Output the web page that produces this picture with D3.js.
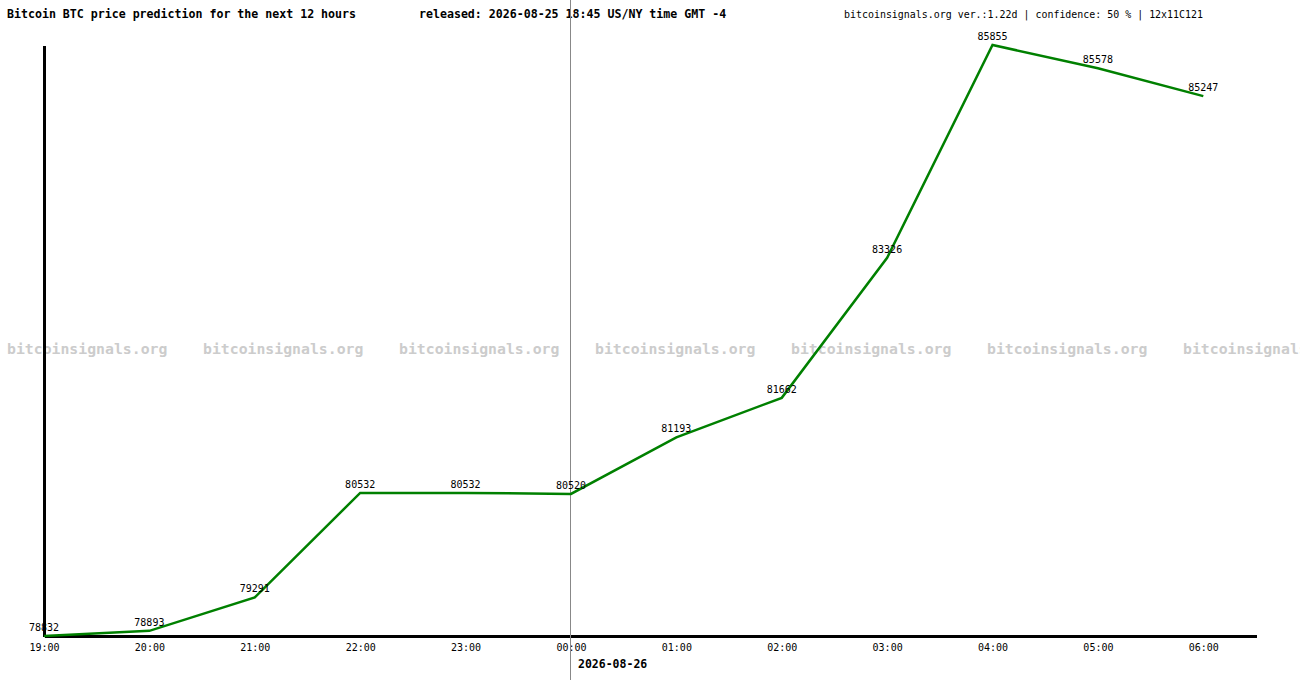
<!DOCTYPE html>
<html lang="en">
<head>
	<meta charset="utf-8">
	<title>Bitcoin BTC price prediction</title>
	<style type="text/css">
		body {
			margin: 0;
			background: #fff;
		}
		svg text {
			font-family: "DejaVu Sans Mono", "Liberation Mono", monospace;
		}
		.axis path {
			stroke: #000;
			stroke-width: 3px;
			shape-rendering: crispEdges;
		}
		.axis text {
			font-size: 10px;
			fill: #000;
		}
	</style>
</head>
<body>
	<div id="vis"></div>

	<script src="https://cdn.jsdelivr.net/npm/d3@7"></script>
	<script type="text/javascript">

		var hours = [ "19:00", "20:00", "21:00", "22:00", "23:00", "00:00",
					  "01:00", "02:00", "03:00", "04:00", "05:00", "06:00" ];
		var prices = [ 78832, 78893, 79291, 80532, 80532, 80520,
					   81193, 81662, 83326, 85855, 85578, 85247 ];
		var watermarks = [ 0, 1, 2, 3, 4, 5, 6 ];

		var w = 1300;
		var h = 680;

		var xScale = d3.scaleLinear()
						.domain([0, hours.length - 0.5])
						.range([44, 1256]);

		var yScale = d3.scaleLinear()
						.domain([d3.min(prices), d3.max(prices)])
						.range([636, 45]);

		var svg = d3.select("#vis")
					.append("svg")
					.attr("width", w)
					.attr("height", h);

		//Watermark (last copy runs off the right edge, as in the original)
		svg.selectAll("text.wm")
			.data(watermarks)
			.enter()
			.append("text")
			.attr("class", "wm")
			.attr("x", function(d) { return 7 + d * 196; })
			.attr("y", 354)
			.attr("font-size", "14.8px")
			.attr("font-weight", "bold")
			.attr("fill", "#cccccc")
			.text("bitcoinsignals.org");

		//Header
		svg.append("text")
			.attr("x", 7)
			.attr("y", 18)
			.attr("font-size", "11.6px")
			.attr("font-weight", "bold")
			.text("Bitcoin BTC price prediction for the next 12 hours");

		svg.append("text")
			.attr("x", 419)
			.attr("y", 18)
			.attr("font-size", "11.6px")
			.attr("font-weight", "bold")
			.text("released: 2026-08-25 18:45 US/NY time GMT -4");

		svg.append("text")
			.attr("x", 844)
			.attr("y", 18)
			.attr("font-size", "9.95px")
			.text("bitcoinsignals.org ver.:1.22d | confidence: 50 % | 12x11C121");

		//X axis
		var xAxis = d3.axisBottom(xScale)
						.tickValues(d3.range(hours.length))
						.tickFormat(function(d) { return hours[d]; })
						.tickSize(0)
						.tickSizeOuter(0)
						.tickPadding(8);

		svg.append("g")
			.attr("class", "axis")
			.attr("transform", "translate(0,636)")
			.call(xAxis);

		//Y axis
		var yAxis = d3.axisLeft(yScale)
						.tickValues([])
						.tickSizeOuter(0);

		svg.append("g")
			.attr("class", "axis")
			.attr("transform", "translate(44,0)")
			.call(yAxis);

		//Date label under midnight
		svg.append("text")
			.attr("x", 578)
			.attr("y", 668)
			.attr("font-size", "11.5px")
			.attr("font-weight", "bold")
			.text("2026-08-26");

		//Release marker line
		var mx = Math.round(xScale(5)) - 0.5;
		svg.append("line")
			.attr("x1", mx)
			.attr("x2", mx)
			.attr("y1", 0)
			.attr("y2", h)
			.attr("stroke", "#888888")
			.attr("stroke-width", 1);

		//Price line
		var line = d3.line()
					.x(function(d, i) { return xScale(i); })
					.y(function(d) { return yScale(d); });

		svg.append("path")
			.datum(prices)
			.attr("d", line)
			.attr("fill", "none")
			.attr("stroke", "#008000")
			.attr("stroke-width", 2.5);

		//Value labels
		svg.selectAll("text.val")
			.data(prices)
			.enter()
			.append("text")
			.attr("class", "val")
			.attr("text-anchor", "middle")
			.attr("x", function(d, i) { return xScale(i); })
			.attr("y", function(d) { return yScale(d) - 5; })
			.attr("font-size", "10px")
			.attr("fill", "#000")
			.text(function(d) { return d; });

	</script>
</body>
</html>
